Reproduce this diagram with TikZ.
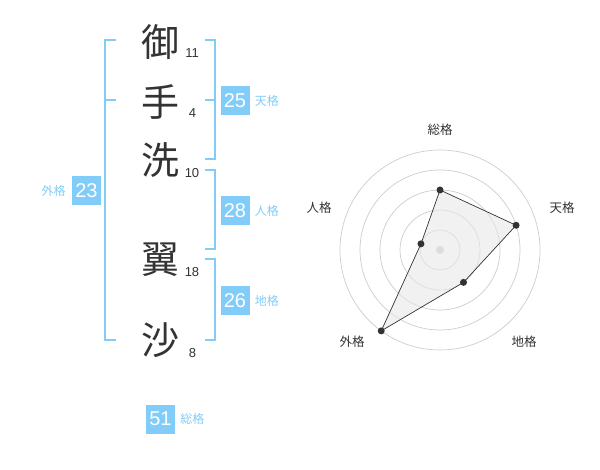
\documentclass[tikz,border=0pt]{standalone}
\usepackage{fontspec}
\setmainfont{Liberation Sans}
\newfontfamily\jpfont{Noto Sans CJK JP}
\usepackage{tikz}
\usetikzlibrary{positioning}
\definecolor{kakublue}{RGB}{130,204,249}
\definecolor{inkgray}{RGB}{51,51,51}
\definecolor{ringgray}{RGB}{204,204,204}
\definecolor{areagray}{RGB}{232,232,232}
\tikzstyle{kanji}=[font=\jpfont\fontsize{38}{38}\selectfont,text=inkgray,inner sep=0pt]
\tikzstyle{strokes}=[font=\fontsize{13}{13}\selectfont,text=inkgray,inner sep=0pt]
\tikzstyle{kakubox}=[fill=kakublue,text=white,font=\fontsize{20}{20}\selectfont,minimum width=29pt,minimum height=29pt,inner sep=0pt]
\tikzstyle{kakuname}=[text=kakublue,font=\jpfont\fontsize{12}{12}\selectfont,inner sep=0pt]
\tikzstyle{bracket}=[line width=2pt,color=kakublue]
\tikzstyle{axisname}=[text=inkgray,font=\jpfont\fontsize{12.5}{12.5}\selectfont,inner sep=0pt]
\tikzstyle{ring}=[line width=0.7pt,color=ringgray]
\tikzstyle{vertex}=[circle,fill=inkgray,inner sep=0pt,minimum size=7pt]

\begin{document}
\begin{tikzpicture}[line cap=butt,line join=miter,x=1pt,y=-1pt]
                \useasboundingbox (0,0) rectangle (600,470);
                \node [kanji] (k1) at (160,42) {御};
                \node [kanji] (k2) at (160,102) {手};
                \node [kanji] (k3) at (160,160) {洗};
                \node [kanji] (k4) at (160,260) {翼};
                \node [kanji] (k5) at (160,340) {沙};
                \node [strokes] (s1) at (192,53) {11};
                \node [strokes] (s2) at (192.5,113) {4};
                \node [strokes] (s3) at (192,173) {10};
                \node [strokes] (s4) at (192,272) {18};
                \node [strokes] (s5) at (192.5,353) {8};
                \draw [bracket] (116,40) -- (105,40) -- (105,340) -- (116,340);
                \draw [bracket] (105,100) -- (116,100);
                \draw [bracket] (205,40) -- (215,40) -- (215,159.5) -- (205,159.5);
                \draw [bracket] (205,100) -- (215,100);
                \draw [bracket] (205,170) -- (215,170) -- (215,249.5) -- (205,249.5);
                \draw [bracket] (205,259.5) -- (215,259.5) -- (215,340) -- (205,340);
                \node [kakubox] (ten) at (235,100.5) {25};
                \node [kakuname,right=5pt of ten] (tenname) {天格};
                \node [kakubox] (jin) at (235,210.5) {28};
                \node [kakuname,right=5pt of jin] (jinname) {人格};
                \node [kakubox] (chi) at (235,300.5) {26};
                \node [kakuname,right=5pt of chi] (chiname) {地格};
                \node [kakubox] (gai) at (86.5,190.5) {23};
                \node [kakuname,left=6pt of gai] (gainame) {外格};
                \node [kakubox] (sou) at (160.5,419) {51};
                \node [kakuname,right=5pt of sou] (souname) {総格};
                \begin{scope}[shift={(440,250)}]
                \foreach \r in {20,40,60,80,100}
                \draw [ring] (0,0) circle (\r pt);
                \fill [ringgray] (0,0) circle (4pt);
                \coordinate (psou) at (90:60pt);
                \coordinate (pten) at (18:80pt);
                \coordinate (pchi) at (-54:40pt);
                \coordinate (pgai) at (234:100pt);
                \coordinate (pjin) at (162:20pt);
                \filldraw [fill=areagray,fill opacity=0.6,draw=inkgray,line width=0.7pt] (psou) -- (pten) -- (pchi) -- (pgai) -- (pjin) -- cycle;
                \foreach \p in {psou,pten,pchi,pgai,pjin}
                \node [vertex] at (\p) {};
                \node [axisname] (asou) at (0,-120) {総格};
                \node [axisname] (aten) at (122,-42) {天格};
                \node [axisname] (achi) at (84,92) {地格};
                \node [axisname] (agai) at (-88,92) {外格};
                \node [axisname] (ajin) at (-121,-42) {人格};
                \end{scope}
            \end{tikzpicture}
\end{document}
